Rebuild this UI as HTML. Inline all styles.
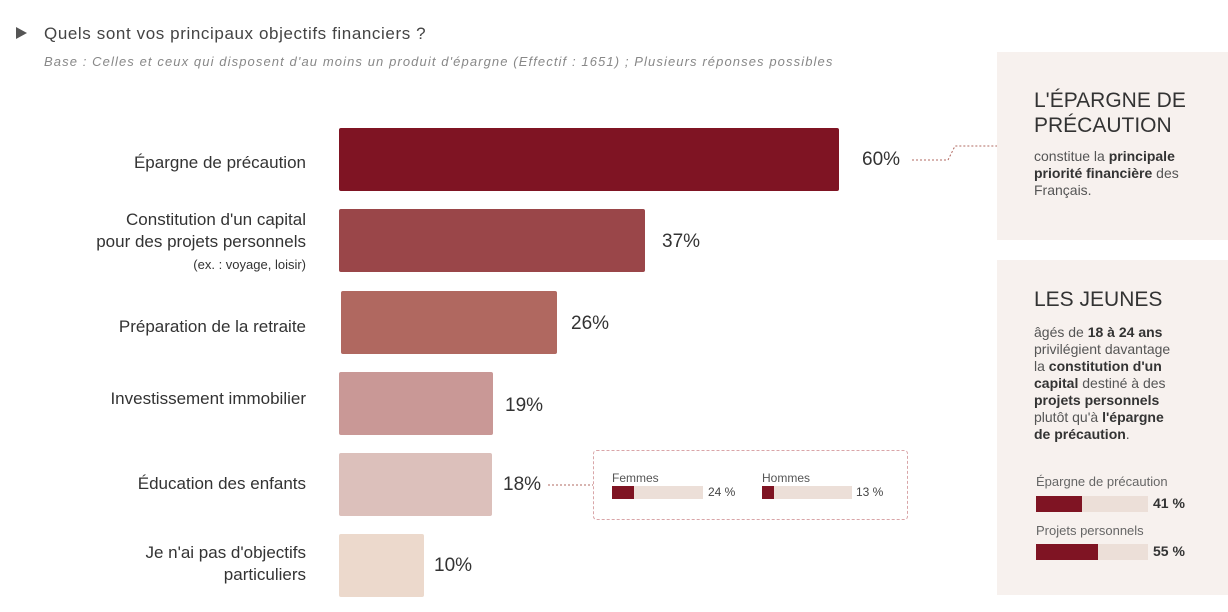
<!DOCTYPE html><html><head><meta charset="utf-8"><style>
body{margin:0;width:1228px;height:612px;background:#fff;position:relative;overflow:hidden;font-family:"Liberation Sans",sans-serif;color:#333}
.a{position:absolute}
.bar{position:absolute;left:339px;height:63px;border-radius:2px}
.lab{position:absolute;right:922px;text-align:right;font-size:17px;color:#333;line-height:22px}
.val{position:absolute;font-size:19px;color:#333}
.box{position:absolute;left:997px;width:231px;background:#f7f1ee}
b{color:#333}
</style></head><body>
<div class="a" style="left:16px;top:27px;width:0;height:0;border-left:11px solid #555;border-top:6px solid transparent;border-bottom:6px solid transparent"></div>
<div class="a" style="left:44px;top:24px;font-size:17px;letter-spacing:0.6px;color:#444">Quels sont vos principaux objectifs financiers ?</div>
<div class="a" style="left:44px;top:54px;font-size:13px;letter-spacing:1.1px;color:#888;font-style:italic">Base : Celles et ceux qui disposent d'au moins un produit d'épargne (Effectif : 1651) ; Plusieurs réponses possibles</div>

<div class="bar" style="top:128px;width:500px;background:#7f1423"></div>
<div class="bar" style="top:209px;width:306px;background:#9a4649"></div>
<div class="bar" style="top:291px;left:341px;width:216px;background:#b06860"></div>
<div class="bar" style="top:372px;width:154px;background:#c99896"></div>
<div class="bar" style="top:453px;width:153px;background:#dcc0bb"></div>
<div class="bar" style="top:534px;width:85px;background:#ecd9cc"></div>

<div class="lab" style="top:152px">Épargne de précaution</div>
<div class="lab" style="top:209px">Constitution d'un capital<br>pour des projets personnels<br><span style="font-size:13px">(ex. : voyage, loisir)</span></div>
<div class="lab" style="top:316px">Préparation de la retraite</div>
<div class="lab" style="top:388px">Investissement immobilier</div>
<div class="lab" style="top:473px">Éducation des enfants</div>
<div class="lab" style="top:542px">Je n'ai pas d'objectifs<br>particuliers</div>

<div class="val" style="left:862px;top:149px">60%</div>
<div class="val" style="left:662px;top:231px">37%</div>
<div class="val" style="left:571px;top:313px">26%</div>
<div class="val" style="left:505px;top:395px">19%</div>
<div class="val" style="left:503px;top:474px">18%</div>
<div class="val" style="left:434px;top:555px">10%</div>

<svg class="a" style="left:0;top:0" width="1228" height="612">
<path d="M912 160 H948 L955 146 H997" fill="none" stroke="#b06860" stroke-dasharray="2,2"/>
<path d="M548 485 H593" fill="none" stroke="#b06860" stroke-dasharray="2,2"/>
<rect x="593.5" y="450.5" width="314" height="69" rx="3" fill="none" stroke="#d9a5a8" stroke-dasharray="3,2"/>
</svg>
<div class="a" style="left:612px;top:471px;font-size:12px;color:#555">Femmes</div>
<div class="a" style="left:612px;top:486px;width:91px;height:13px;background:#ecdfd8"></div>
<div class="a" style="left:612px;top:486px;width:22px;height:13px;background:#7f1423"></div>
<div class="a" style="left:708px;top:485px;font-size:12px;color:#444">24 %</div>
<div class="a" style="left:762px;top:471px;font-size:12px;color:#555">Hommes</div>
<div class="a" style="left:762px;top:486px;width:90px;height:13px;background:#ecdfd8"></div>
<div class="a" style="left:762px;top:486px;width:12px;height:13px;background:#7f1423"></div>
<div class="a" style="left:856px;top:485px;font-size:12px;color:#444">13 %</div>

<div class="box" style="top:52px;height:188px"></div>
<div class="a" style="left:1034px;top:88px;font-size:21px;line-height:25px;color:#333">L'ÉPARGNE DE<br>PRÉCAUTION</div>
<div class="a" style="left:1034px;top:148px;font-size:14px;line-height:17px;color:#555;width:170px">constitue la <b>principale</b><br><b>priorité financière</b> des<br>Français.</div>

<div class="box" style="top:260px;height:335px"></div>
<div class="a" style="left:1034px;top:288px;font-size:21px;color:#333">LES JEUNES</div>
<div class="a" style="left:1034px;top:324px;font-size:14px;line-height:17px;color:#555;width:175px">âgés de <b>18 à 24 ans</b><br>privilégient davantage<br>la <b>constitution d'un</b><br><b>capital</b> destiné à des<br><b>projets personnels</b><br>plutôt qu'à <b>l'épargne</b><br><b>de précaution</b>.</div>
<div class="a" style="left:1036px;top:474px;font-size:13px;color:#666">Épargne de précaution</div>
<div class="a" style="left:1036px;top:496px;width:112px;height:16px;background:#ecdfd8"></div>
<div class="a" style="left:1036px;top:496px;width:46px;height:16px;background:#7f1423"></div>
<div class="a" style="left:1153px;top:495px;font-size:14px;color:#333;font-weight:bold">41 %</div>
<div class="a" style="left:1036px;top:523px;font-size:13px;color:#666">Projets personnels</div>
<div class="a" style="left:1036px;top:544px;width:112px;height:16px;background:#ecdfd8"></div>
<div class="a" style="left:1036px;top:544px;width:62px;height:16px;background:#7f1423"></div>
<div class="a" style="left:1153px;top:543px;font-size:14px;color:#333;font-weight:bold">55 %</div>
</body></html>
